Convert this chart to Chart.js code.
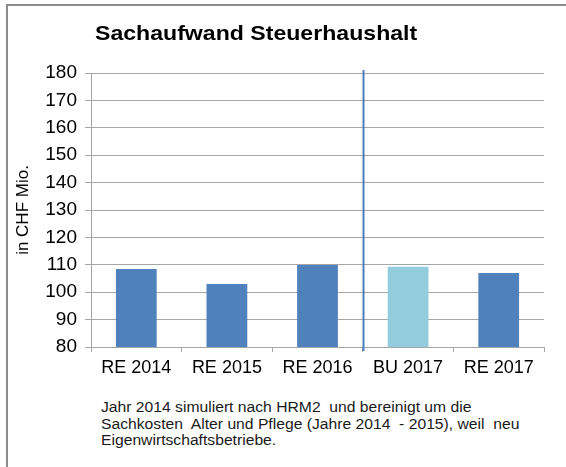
<!DOCTYPE html>
<html>
<head>
<meta charset="utf-8">
<script src="https://cdn.jsdelivr.net/npm/chart.js@4/dist/chart.umd.min.js"></script>
<style>
  html, body { margin: 0; padding: 0; background: #fff; }
  #wrap { position: relative; width: 566px; height: 467px; overflow: hidden; font-family: "Liberation Sans", Arial, sans-serif; }
  #frame { position: absolute; left: 6px; top: 4px; width: 600px; height: 500px; border-left: 2px solid #8c8c8c; border-top: 2px solid #8c8c8c; }
  #title { position: absolute; left: 95px; top: 21px; font-size: 21px; font-weight: bold; color: #000; white-space: nowrap; transform: scaleX(1.1); transform-origin: left top; }
  #note { position: absolute; left: 101px; top: 399px; font-size: 14px; line-height: 16.5px; color: #1a1a1a; white-space: pre; transform: scaleX(1.12); transform-origin: left top; }
  #chart { position: absolute; left: 0; top: 0; }
</style>
</head>
<body>
<div id="wrap">
  <div id="frame"></div>
  <canvas id="chart" width="566" height="390"></canvas>
  <div id="title">Sachaufwand Steuerhaushalt</div>
  <div id="note">Jahr 2014 simuliert nach HRM2  und bereinigt um die
Sachkosten  Alter und Pflege (Jahre 2014  - 2015), weil  neu
Eigenwirtschaftsbetriebe.</div>
</div>
<script>
const categories = ['RE 2014', 'RE 2015', 'RE 2016', 'BU 2017', 'RE 2017'];
const values = [108.5, 103, 109.9, 109.3, 107];
const barColors = ['#4f81bd', '#4f81bd', '#4f81bd', '#93cddd', '#4f81bd'];
const yMin = 80, yMax = 180, yStep = 10;

// vertical separator between RE 2016 and BU 2017
const separatorLine = {
  id: 'separatorLine',
  afterDatasetsDraw(chart) {
    const x = chart.scales.x;
    const area = chart.chartArea;
    const px = Math.round((x.getPixelForValue(2) + x.getPixelForValue(3)) / 2) + 0.5;
    const ctx = chart.ctx;
    ctx.save();
    ctx.strokeStyle = '#4a7ebb';
    ctx.lineWidth = 2;
    ctx.beginPath();
    ctx.moveTo(px, area.top - 3);
    ctx.lineTo(px, area.bottom + 4);
    ctx.stroke();
    ctx.restore();
  }
};

new Chart(document.getElementById('chart'), {
  type: 'bar',
  data: {
    labels: categories,
    datasets: [{
      data: values,
      backgroundColor: barColors,
      borderWidth: 0,
      barPercentage: 0.45,
      categoryPercentage: 1
    }]
  },
  options: {
    responsive: false,
    animation: false,
    layout: { padding: { left: 0, right: 22, top: 73, bottom: 0 } },
    plugins: { legend: { display: false }, tooltip: { enabled: false } },
    scales: {
      x: {
        afterFit: (s) => { s.height = 43; },
        grid: { display: true, offset: true, drawOnChartArea: false, color: '#a6a6a6', tickLength: 5 },
        border: { color: '#a6a6a6', width: 1 },
        ticks: { color: '#000', padding: 5, font: { family: 'Liberation Sans', size: 18 } }
      },
      y: {
        min: yMin,
        max: yMax,
        afterFit: (s) => { s.width = 91; },
        ticks: { stepSize: yStep, color: '#000', padding: 8, font: { family: 'Liberation Sans', size: 19 } },
        grid: { color: '#a6a6a6', tickLength: 6 },
        border: { color: '#a6a6a6', width: 1 },
        title: { display: true, text: 'in CHF Mio.', color: '#000', padding: { top: 13, bottom: 0 }, font: { family: 'Liberation Sans', size: 17 } }
      }
    }
  },
  plugins: [separatorLine]
});
</script>
</body>
</html>
